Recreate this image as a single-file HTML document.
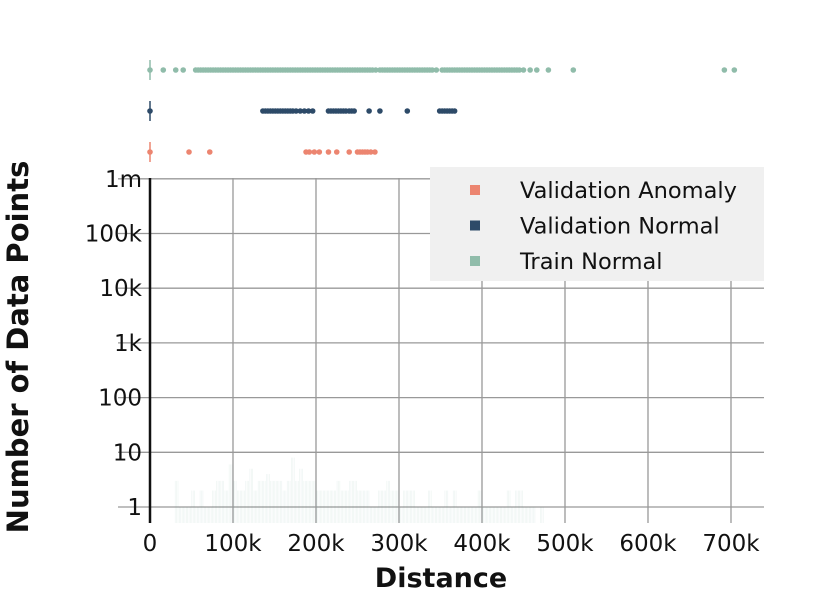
<!DOCTYPE html>
<html><head><meta charset="utf-8"><style>
html,body{margin:0;padding:0;background:#fff;}
svg{display:block;font-family:"DejaVu Sans","Liberation Sans",sans-serif;}
</style></head><body>
<svg id="chart" width="830" height="598" viewBox="0 0 830 598"></svg>
<script>
// ---- data ----
const xTicks = [0,100000,200000,300000,400000,500000,600000,700000];
const xTickLabels = ["0","100k","200k","300k","400k","500k","600k","700k"];
const yTicks = [1,10,100,1000,10000,100000,1000000];
const yTickLabels = ["1","10","100","1k","10k","100k","1m"];
const seriesNames = ["Validation Anomaly","Validation Normal","Train Normal"];
const seriesColors = ["#ec8570","#2d4a68","#90bcaa"];
const trainPoints = [0,16000,31000,40000,55000,58000,61000,64000,67000,70000,73000,76000,79000,82000,85000,88000,91000,94000,97000,100000,103000,106000,109000,112000,115000,118000,121000,124000,127000,130000,133000,136000,139000,142000,145000,148000,151000,154000,157000,160000,163000,166000,169000,172000,175000,178000,181000,184000,187000,190000,193000,196000,199000,202000,205000,208000,211000,214000,217000,220000,223000,226000,229000,232000,235000,238000,241000,244000,247000,250000,253000,256000,259000,262000,265000,268000,272000,277000,280000,283000,286000,289000,292000,295000,298000,301000,304000,307000,310000,313000,316000,319000,322000,325000,328000,331000,334000,337000,340000,345000,352000,355000,358000,361000,364000,367000,370000,373000,376000,379000,382000,385000,388000,391000,394000,397000,400000,403000,406000,409000,412000,415000,418000,421000,424000,427000,430000,433000,436000,439000,442000,445000,450000,458000,466000,480000,510000,692000,704000];
const valNormalPoints = [0,136000,139000,142000,145000,148000,151000,154000,157000,160000,163000,166000,169000,172000,176000,181000,186000,191000,196000,215000,218000,221000,224000,227000,230000,233000,236000,240000,243000,246000,264000,277000,310000,349000,352000,355000,358000,361000,364000,367000];
const anomalyPoints = [0,47000,72000,188000,192000,198000,204000,215000,225000,240000,250000,253000,256000,259000,262000,266000,271000];
// histogram bins (5k wide), train-normal counts
const histBins = [30000,35000,40000,45000,50000,55000,60000,65000,70000,75000,80000,85000,90000,95000,100000,105000,110000,115000,120000,125000,130000,135000,140000,145000,150000,155000,160000,165000,170000,175000,180000,185000,190000,195000,200000,205000,210000,215000,220000,225000,230000,235000,240000,245000,250000,255000,260000,265000,270000,275000,280000,285000,290000,295000,300000,305000,310000,315000,320000,325000,330000,335000,340000,345000,350000,355000,360000,365000,370000,375000,380000,385000,390000,395000,400000,405000,410000,415000,420000,425000,430000,435000,440000,445000,450000,455000,460000,470000];
const histCounts = [3,1,1,1,2,1,2,1,1,2,3,3,2,6,3,2,2,3,5,2,3,3,4,3,3,3,2,3,8,3,5,3,3,3,2,2,2,2,2,3,2,2,3,3,2,2,2,1,1,2,2,3,2,2,1,2,2,2,1,1,1,2,1,1,1,2,1,2,1,1,1,1,1,2,1,1,1,1,1,1,2,1,2,2,1,1,1,1];

// ---- scales ----
const X0=150, PX=0.83/1000;
const xS = v => X0 + v*PX;
const Y1=507, DEC=54.7;
const yS = v => Y1 - Math.log10(v)*DEC;
const plotL=118, plotR=764, plotT=178, plotB=523;
const NS="http://www.w3.org/2000/svg";
const svg=document.getElementById('chart');
function el(tag,attrs,parent){const e=document.createElementNS(NS,tag);for(const k in attrs)e.setAttribute(k,attrs[k]);(parent||svg).appendChild(e);return e;}

// grid
const grid=el('g',{});


yTicks.forEach((t,i)=>{
  const y=yS(t);
  const l=el('line',{x1:plotL,x2:plotR,y1:y,y2:y,stroke:'#999','stroke-width':1.3},grid);
  
  
  const tx=el('text',{x:142,y:y+8,'text-anchor':'end','font-size':23,fill:'#111'});
  tx.textContent=yTickLabels[i];
  
  
});
xTicks.forEach((t,i)=>{
  const x=xS(t);
  if(i>0){
    const l=el('line',{x1:x,x2:x,y1:plotT,y2:plotB,stroke:'#999','stroke-width':1.3},grid);
    
    
  }
  const tx=el('text',{x:x,y:551,'text-anchor':'middle','font-size':23,fill:'#111'});
  tx.textContent=xTickLabels[i];
  
  
});

// histogram bars
histBins.forEach((b,i)=>{
  const x=xS(b);
  for(let k=0;k<3;k++){
    const r=el('rect',{x:x+k*1.4,y:yS(histCounts[i]),width:0.6,height:plotB-yS(histCounts[i]),fill:'#3f8a72','fill-opacity':0.1});
    
    
  }
});

// zero line
const zl=el('line',{x1:X0,x2:X0,y1:plotT,y2:plotB,stroke:'#111','stroke-width':2.5});



// strip plots
const strips=[[trainPoints,2,70],[valNormalPoints,1,111],[anomalyPoints,0,152]];
strips.forEach(([pts,ci,y])=>{
  const c=seriesColors[ci];
  const tick=el('line',{x1:X0,x2:X0,y1:y-10,y2:y+10,stroke:c,'stroke-width':1.5});
  
  
  pts.forEach(p=>{
    const d=el('circle',{cx:xS(p),cy:y,r:2.8,fill:c});
    
    
  });
});

// legend
const lg=el('g',{});


el('rect',{x:430,y:167,width:334,height:114,fill:'#f0f0f0'},lg);
seriesNames.forEach((n,i)=>{
  const y=190+i*35.5;
  const s=el('rect',{x:470,y:y-5,width:10,height:10,fill:seriesColors[i]},lg);
  
  
  const t=el('text',{x:520,y:y+8,'font-size':22.5,fill:'#111'},lg);
  t.textContent=n;
  
  
});

// axis titles
const xt=el('text',{x:441,y:587,'text-anchor':'middle','font-size':27,'font-weight':'bold',fill:'#111'});
xt.textContent='Distance';


const yt=el('text',{x:0,y:0,'text-anchor':'middle','font-size':29,'font-weight':'bold',fill:'#111',transform:'translate(28,347) rotate(-90)'});
yt.textContent='Number of Data Points';


</script>
</body></html>
